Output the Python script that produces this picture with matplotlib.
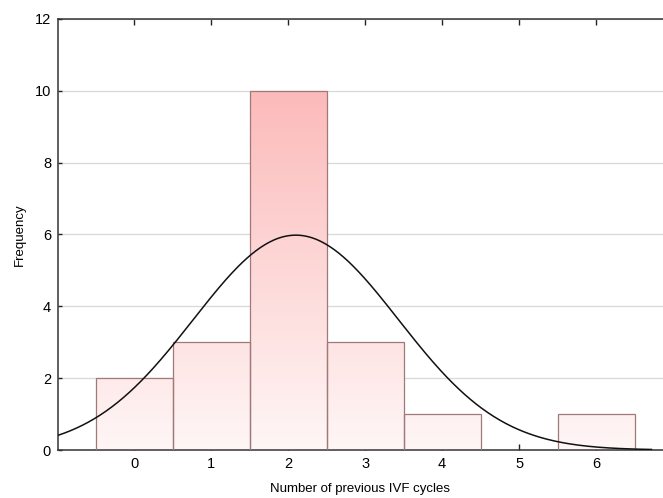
import matplotlib
matplotlib.use("Agg")
import matplotlib.pyplot as plt
import numpy as np
from matplotlib.colors import LinearSegmentedColormap

plt.rcParams["font.family"] = ["Liberation Sans", "DejaVu Sans"]

# histogram of previous IVF cycles
cycles = [0, 1, 2, 3, 4, 5, 6]
counts = [2, 3, 10, 3, 1, 0, 1]
x_ticks = [0, 1, 2, 3, 4, 5, 6]
y_ticks = [0, 2, 4, 6, 8, 10, 12]

# fitted normal curve from the binned data
vals = np.repeat(cycles, counts)
mu = vals.mean()
sd = vals.std(ddof=1)
n = len(vals)

fig = plt.figure(figsize=(6.63, 4.98), dpi=100)
ax = fig.add_axes([58 / 663, 48 / 498, 605 / 663, 431 / 498])

ax.set_xlim(-0.99, 6.87)
ax.set_ylim(0, 12)

cmap = LinearSegmentedColormap.from_list("pk", ["#fff6f6", "#fcbaba"])
grad = np.linspace(0, 1, 256).reshape(-1, 1)

for x, c in zip(cycles, counts):
    if c == 0:
        continue
    bar = ax.bar(x, c, width=1.0, color="none", edgecolor="#a07878",
                 linewidth=0.9, zorder=3)[0]
    im = ax.imshow(grad, cmap=cmap, origin="lower", aspect="auto",
                   extent=[x - 0.5, x + 0.5, 0, 10], vmin=0, vmax=1,
                   zorder=2)
    im.set_clip_path(bar)

xs = np.linspace(-0.99, 6.72, 400)
pdf = n / (sd * np.sqrt(2 * np.pi)) * np.exp(-0.5 * ((xs - mu) / sd) ** 2)
ax.plot(xs, pdf, color="#111111", lw=1.1, zorder=4)

ax.set_xticks(x_ticks)
ax.set_yticks(y_ticks)
ax.yaxis.grid(True, color="#d8d8d8", lw=0.9, zorder=0)
ax.set_axisbelow(True)
ax.tick_params(axis="x", direction="in", top=True, length=4, width=1,
               labelsize=10.5, pad=5, color="#222222")
ax.tick_params(axis="y", direction="in", length=3, width=1,
               labelsize=10.5, pad=5, color="#222222")
for s in ["left", "bottom", "top"]:
    ax.spines[s].set_color("#333333")
    ax.spines[s].set_linewidth(1.1)
ax.spines["right"].set_visible(False)

ax.set_xlabel("Number of previous IVF cycles", fontsize=9.5, labelpad=9)
ax.set_ylabel("Frequency", fontsize=9.5, labelpad=6)

fig.savefig("out.png", dpi=100)
